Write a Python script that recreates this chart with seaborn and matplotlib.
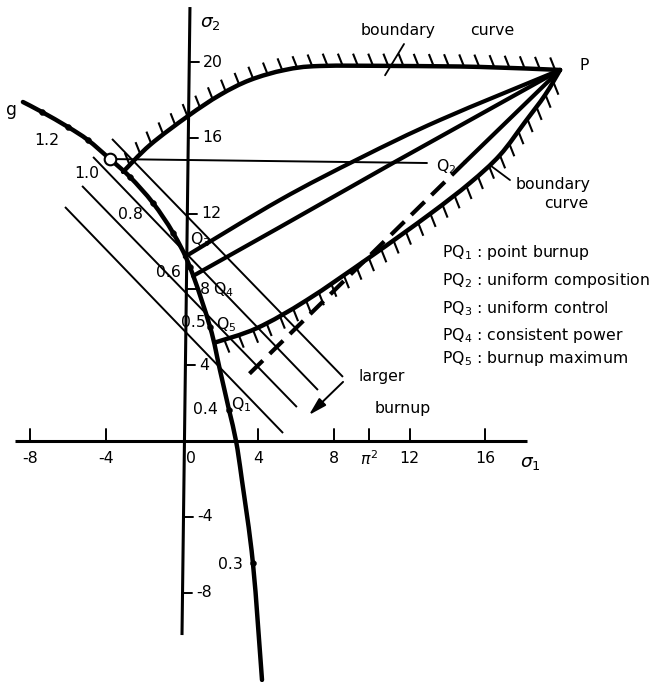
import numpy as np
import pandas as pd
import matplotlib
matplotlib.use("Agg")
import matplotlib.pyplot as plt
from matplotlib.collections import LineCollection
from matplotlib.path import Path
from matplotlib.patches import PathPatch
import seaborn as sns

# ---- curve g in the (sigma1, sigma2) plane ----
g_s1 = [-8.39, -7.38, -6.01, -4.96, -3.80, -2.74, -1.53, -0.47, 0.42, 1.48, 2.00, 2.48, 2.85, 3.16, 3.74, 4.22]
g_s2 = [17.89, 17.36, 16.57, 15.88, 14.88, 13.93, 12.56, 10.98, 9.18, 6.02, 3.75, 1.64, 0.00, -2.06, -6.44, -12.61]

# marked points on g (parameter values) and the labelled ones
g_dot_s1 = [-7.38, -6.01, -4.96, -2.74, -1.53, -0.47, 0.42, 1.48, 2.48, 3.74]
g_dot_s2 = [17.36, 16.57, 15.88, 13.93, 12.56, 10.98, 9.18, 6.02, 1.64, -6.44]
g_open = (-3.80, 14.88)
g_labels = ["1.2", "1.0", "0.8", "0.6", "0.5", "0.4", "0.3"]
g_label_s1 = [-7.12, -5.01, -2.74, -0.74, 0.62, 1.21, 2.58]
g_label_s2 = [15.88, 14.09, 11.93, 8.87, 6.23, 1.64, -6.54]

# ---- boundary curves ----
upper_s1 = [-3.11, -1.69, 0.32, 2.00, 3.59, 5.43, 7.28, 11.50, 15.72, 19.94]
upper_s2 = [14.20, 15.62, 17.15, 18.26, 19.05, 19.58, 19.79, 19.79, 19.74, 19.58]
lower_s1 = [1.75, 3.96, 6.59, 9.92, 13.08, 15.19, 16.77, 18.09, 19.15, 19.94]
lower_s2 = [5.20, 5.96, 7.44, 9.71, 11.98, 13.62, 15.09, 16.83, 18.26, 19.58]

# ---- paths from P ----
P = (19.94, 19.58)
pq3_s1 = [0.15, 5.17, 9.39, 13.61, 19.94]
pq3_s2 = [9.72, 12.72, 14.93, 16.94, 19.58]
pq4_s1 = [0.58, 5.17, 11.13, 19.94]
pq4_s2 = [8.71, 11.29, 14.67, 19.58]
pq2_s1 = [14.93, 19.94]
pq2_s2 = [14.72, 19.58]
dash_s1 = [14.93, 3.22]
dash_s2 = [14.72, 3.22]
horiz_s1 = [-3.80, 12.92]
horiz_s2 = [14.88, 14.67]

# ---- constant-burnup lines (start, end) ----
burn_start_s1 = [-3.69, -4.69, -5.27, -6.17]
burn_start_s2 = [15.94, 14.99, 13.46, 12.35]
burn_end_s1 = [8.49, 7.17, 6.06, 5.33]
burn_end_s2 = [3.38, 2.69, 1.79, 0.42]
arrow_from = (8.60, 3.22)
arrow_to = (6.59, 1.27)

# ---- axes ticks ----
s1_ticks = [-8, -4, 4, 8, np.pi ** 2, 12, 16]
s1_tick_labels = ["-8", "-4", "4", "8", r"$\pi^2$", "12", "16"]
s2_ticks = [20, 16, 12, 8, 4, -4, -8]
s2_tick_labels = ["20", "16", "12", "8", "4", "-4", "-8"]

# ---- point labels ----
q_labels = ["Q$_1$", "Q$_2$", "Q$_3$", "Q$_4$", "Q$_5$"]
q_s1 = [3.11, 13.92, 0.95, 2.17, 2.32]
q_s2 = [1.90, 14.46, 10.60, 7.97, 6.12]

legend_keys = ["PQ$_1$", "PQ$_2$", "PQ$_3$", "PQ$_4$", "PQ$_5$"]
legend_text = ["point burnup", "uniform composition", "uniform control",
               "consistent power", "burnup maximum"]
legend_s2 = [9.71, 8.23, 6.75, 5.33, 4.12]

sns.set_theme(style="white")
plt.rcParams["font.family"] = ["DejaVu Sans"]
plt.rcParams["mathtext.fontset"] = "dejavusans"
plt.rcParams["text.color"] = "black"

fig = plt.figure(figsize=(6.53, 6.82), dpi=100)
ax = fig.add_axes([0, 0, 1, 1])
ax.set_xlim(-9.599, 24.842)
ax.set_ylim(-12.718, 23.272)
ax.axis("off")

K = "black"
FS = 11.3


def smooth_curve(xs, ys, lw, z=3):
    """Draw a smooth cubic curve through the given points."""
    p = np.column_stack([xs, ys]).astype(float)
    ext = np.vstack([p[0], p, p[-1]])
    verts = [tuple(p[0])]
    codes = [Path.MOVETO]
    for i in range(1, len(ext) - 2):
        c1 = ext[i] + (ext[i + 1] - ext[i - 1]) / 6.0
        c2 = ext[i + 1] - (ext[i + 2] - ext[i]) / 6.0
        verts += [tuple(c1), tuple(c2), tuple(ext[i + 1])]
        codes += [Path.CURVE4] * 3
    ax.add_patch(PathPatch(Path(verts, codes), fill=False, edgecolor=K, lw=lw,
                           capstyle="round", joinstyle="round", zorder=z))


# coordinate axes
ax.plot([-8.8, 18.2], [0, 0], color=K, lw=2.2, solid_capstyle="butt")
ax_top, ax_bot = (0.42, 22.9), (0.0, -10.24)
ax.plot([ax_top[0], ax_bot[0]], [ax_top[1], ax_bot[1]], color=K, lw=2.2, solid_capstyle="butt")


def axis_x(s2):
    return ax_bot[0] + (ax_top[0] - ax_bot[0]) * (s2 - ax_bot[1]) / (ax_top[1] - ax_bot[1])


for t, lab in zip(s1_ticks, s1_tick_labels):
    ax.plot([t, t], [0, 0.62], color=K, lw=1.4)
    ax.text(t, -0.95, lab, ha="center", va="center", fontsize=FS)
ax.text(0.47, -0.95, "0", ha="center", va="center", fontsize=FS)
for t, lab in zip(s2_ticks, s2_tick_labels):
    x0 = axis_x(t)
    ax.plot([x0, x0 + 0.5], [t, t], color=K, lw=1.4)
    ax.text(x0 + 0.72, t, lab, ha="left", va="center", fontsize=FS)
ax.text(17.85, -1.15, r"$\sigma_1$", ha="left", va="center", fontsize=FS + 2)
ax.text(0.95, 22.05, r"$\sigma_2$", ha="left", va="center", fontsize=FS + 2)

# constant-burnup lines and the direction of larger burnup
segs = [[(a, b), (c, d)] for a, b, c, d in zip(burn_start_s1, burn_start_s2, burn_end_s1, burn_end_s2)]
ax.add_collection(LineCollection(segs, colors=K, linewidths=1.4))
ax.annotate("", xy=arrow_to, xytext=arrow_from,
            arrowprops=dict(arrowstyle="-|>,head_length=0.9,head_width=0.25", color=K, lw=1.4))
ax.text(10.55, 3.43, "larger", ha="center", va="center", fontsize=FS)
ax.text(11.66, 1.74, "burnup", ha="center", va="center", fontsize=FS)

# horizontal line to Q2
ax.plot(horiz_s1, horiz_s2, color=K, lw=1.4)


def hatch(xs, ys, step, length, direction, start=0.2):
    pts = np.column_stack([xs, ys])
    seg = np.diff(pts, axis=0)
    cum = np.concatenate([[0], np.cumsum(np.hypot(seg[:, 0], seg[:, 1]))])
    d = np.asarray(direction, float)
    d /= np.hypot(*d)
    out = []
    for s in np.arange(start, cum[-1] + 1e-9, step):
        px = np.interp(s, cum, pts[:, 0])
        py = np.interp(s, cum, pts[:, 1])
        out.append([(px, py), (px + d[0] * length, py + d[1] * length)])
    ax.add_collection(LineCollection(out, colors=K, linewidths=1.5))


# boundary curves with hatching on the forbidden side
smooth_curve(upper_s1, upper_s2, 3.2)
hatch(upper_s1, upper_s2, 0.8, 0.7, (-0.37, 0.93), start=0.5)
smooth_curve(lower_s1, lower_s2, 3.2)
hatch(lower_s1, lower_s2, 0.8, 0.75, (0.37, -0.93), start=0.5)

# paths from P
smooth_curve(pq3_s1, pq3_s2, 3.0)
for xs, ys in [(pq4_s1, pq4_s2), (pq2_s1, pq2_s2)]:
    sns.lineplot(x=xs, y=ys, sort=False, estimator=None, color=K, lw=3.0, ax=ax)
ax.plot(dash_s1, dash_s2, color=K, lw=3.0, dashes=(4.5, 2.3))

# curve g
smooth_curve(g_s1, g_s2, 3.2, z=4)
sns.scatterplot(x=g_dot_s1, y=g_dot_s2, color=K, s=18, edgecolor=K, ax=ax, zorder=5)
ax.scatter([g_open[0]], [g_open[1]], s=70, facecolor="white", edgecolor=K, linewidths=1.5, zorder=6)
for lab, x, y in zip(g_labels, g_label_s1, g_label_s2):
    ax.text(x, y, lab, ha="center", va="center", fontsize=FS)
ax.text(-8.97, 17.47, "g", ha="center", va="center", fontsize=FS + 1)

for lab, x, y in zip(q_labels, q_s1, q_s2):
    ax.text(x, y, lab, ha="center", va="center", fontsize=FS)
ax.text(21.2, 19.84, "P", ha="center", va="center", fontsize=FS)

# boundary curve annotations
ax.text(11.39, 21.64, "boundary", ha="center", va="center", fontsize=FS)
ax.text(16.35, 21.64, "curve", ha="center", va="center", fontsize=FS)
ax.plot([11.71, 10.71], [20.95, 19.30], color=K, lw=1.3)
ax.text(19.57, 13.51, "boundary", ha="center", va="center", fontsize=FS)
ax.text(20.25, 12.51, "curve", ha="center", va="center", fontsize=FS)
ax.plot([16.24, 17.30], [14.56, 13.77], color=K, lw=1.3)

# path legend
for key, txt, y in zip(legend_keys, legend_text, legend_s2):
    ax.text(13.71, y, key + " : " + txt, ha="left", va="baseline", fontsize=FS)

fig.savefig("out.png", dpi=100)
